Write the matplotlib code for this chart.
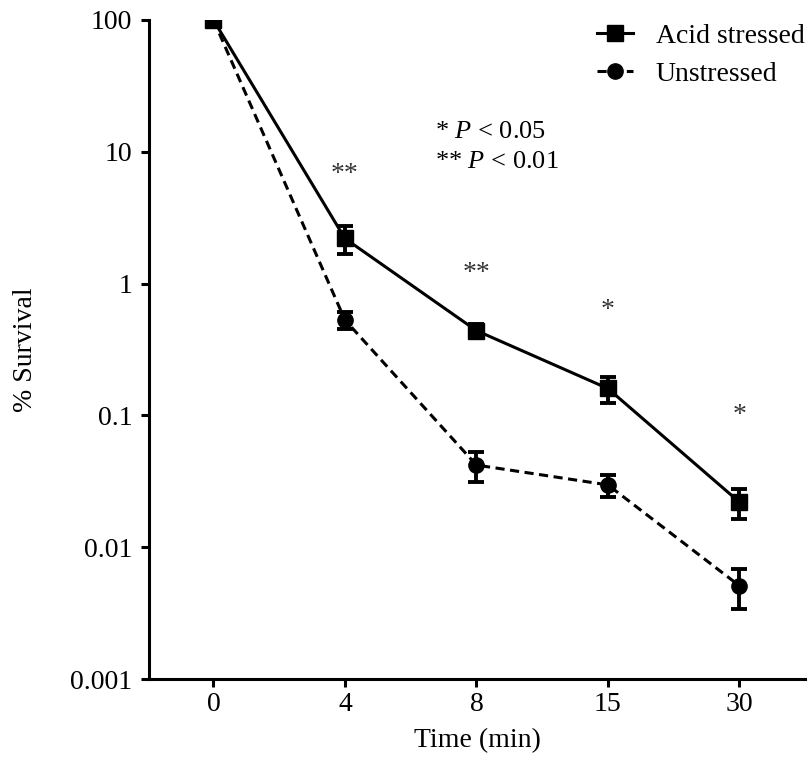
import matplotlib
matplotlib.use('Agg')
import matplotlib.pyplot as plt
from matplotlib.lines import Line2D

plt.rcParams['font.family'] = ['Liberation Serif', 'DejaVu Serif']
plt.rcParams['mathtext.fontset'] = 'custom'
plt.rcParams['mathtext.rm'] = 'Liberation Serif'
plt.rcParams['mathtext.it'] = 'Liberation Serif:italic'

# survival after acid challenge, mean +/- error
times = ['0', '4', '8', '15', '30']
acid = [100, 2.2, 0.44, 0.16, 0.022]
acid_err = [0, 0.52, 0.05, 0.035, 0.0055]
unstressed = [100, 0.53, 0.042, 0.0297, 0.0051]
unstressed_err = [0, 0.08, 0.0105, 0.0056, 0.0017]

sig_labels = ['**', '**', '*', '*']
sig_pos = [1, 2, 3, 4]
sig_y = [6.7, 1.2, 0.63, 0.1]

fs = 20
fig = plt.figure(figsize=(8.12, 7.81), dpi=100)
ax = fig.add_axes([0.1835, 0.1306, 0.808, 0.8438])

x = list(range(len(times)))
ax.errorbar(x, acid, yerr=acid_err, color='black', lw=2.2, marker='s', ms=11,
            capsize=5.5, capthick=2.8, elinewidth=2.8, zorder=3)
ax.errorbar(x, unstressed, yerr=unstressed_err, color='black', lw=2.2, marker='o', ms=11,
            capsize=5.5, capthick=2.8, elinewidth=2.8, dashes=(3, 1.8), zorder=3)

for xi, yi, s in zip(sig_pos, sig_y, sig_labels):
    ax.text(xi, yi, s, ha='center', va='center', fontsize=fs, color='#333333')

ax.set_yscale('log')
ax.set_ylim(0.001, 100)
ax.set_xlim(-0.49, 4.5)
ax.set_xticks(x)
ax.set_xticklabels(times)
ax.set_yticks([0.001, 0.01, 0.1, 1, 10, 100])
ax.set_yticklabels(['0.001', '0.01', '0.1', '1', '10', '100'])
ax.yaxis.set_minor_locator(matplotlib.ticker.NullLocator())

for side in ['top', 'right']:
    ax.spines[side].set_visible(False)
for side in ['left', 'bottom']:
    ax.spines[side].set_linewidth(2.2)
ax.tick_params(width=2.2, length=6, labelsize=fs)
ax.tick_params(axis='y', pad=6)

ax.set_xlabel('Time (min)', fontsize=fs, labelpad=8)
ax.set_ylabel('% Survival', fontsize=fs, labelpad=23)

fig.text(0.536, 0.831, '* $P$ < 0.05', fontsize=19, va='center')
fig.text(0.536, 0.793, '** $P$ < 0.01', fontsize=19, va='center')

handles = [Line2D([], [], color='black', lw=2.2, marker='s', ms=11),
           Line2D([], [], color='black', lw=2.2, marker='o', ms=11, dashes=(3, 1.8))]
ax.legend(handles, ['Acid stressed', 'Unstressed'], loc='upper right',
          bbox_to_anchor=(1.037, 1.033), frameon=False, fontsize=fs,
          handlelength=1.3, handletextpad=0.8, labelspacing=0.45)

fig.savefig('out.png', dpi=100)
